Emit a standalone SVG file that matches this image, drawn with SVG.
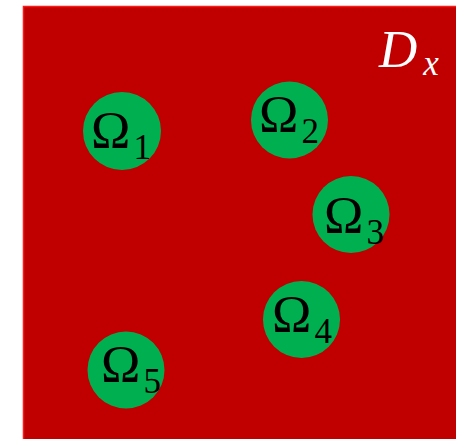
<svg xmlns="http://www.w3.org/2000/svg" width="456" height="439" viewBox="0 0 456 439">
<style>
.sub{fill:#00b050}
.t{font-family:"Liberation Serif","DejaVu Serif",serif;fill:#000}
.big{font-size:53px}
.small{font-size:35px}
</style>
<rect x="0" y="0" width="456" height="439" fill="#ffffff"/>
<g id="Dx">
<rect x="23.5" y="6.5" width="440" height="440" fill="#c00000" stroke="#ff1a1a" stroke-width="1.5"/>
<text x="379" y="67" font-family="Liberation Serif,serif" font-style="italic" font-size="53" fill="#fff">D<tspan font-size="35" dy="8" dx="6">x</tspan></text>
</g>
<g id="connectors"></g>
<g id="omega1"><circle class="sub" cx="122" cy="131" r="39"/><text class="t big" x="91" y="148">Ω<tspan class="small" dy="11" dx="3">1</tspan></text></g>
<g id="omega2"><circle class="sub" cx="289.5" cy="120" r="38.5"/><text class="t big" x="259" y="132">Ω<tspan class="small" dy="11" dx="3">2</tspan></text></g>
<g id="omega3"><circle class="sub" cx="351" cy="214.5" r="38.5"/><text class="t big" x="324" y="233">Ω<tspan class="small" dy="11" dx="3">3</tspan></text></g>
<g id="omega4"><circle class="sub" cx="301.5" cy="319.5" r="38.5"/><text class="t big" x="272" y="332">Ω<tspan class="small" dy="11" dx="3">4</tspan></text></g>
<g id="omega5"><circle class="sub" cx="126" cy="370" r="38.5"/><text class="t big" x="101" y="382">Ω<tspan class="small" dy="11" dx="3">5</tspan></text></g>
</svg>
